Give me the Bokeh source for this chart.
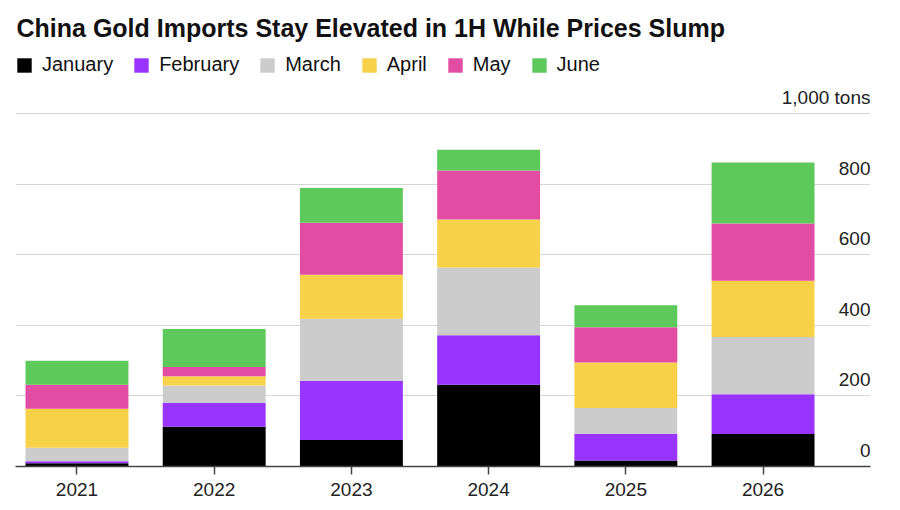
from bokeh.plotting import figure
from bokeh.models import Range1d, FixedTicker, Grid, Legend, LegendItem, Label, ColumnDataSource
from bokeh.core.properties import value
from bokeh.embed import file_html
from bokeh.resources import INLINE

# ---- data (thousand tons) ----
YEARS = ["2021", "2022", "2023", "2024", "2025", "2026"]
MONTHS = ["January", "February", "March", "April", "May", "June"]
JAN = [9, 113, 75, 232, 17, 92]
FEB = [6, 67, 168, 140, 76, 113]
MAR = [38, 50, 176, 192, 73, 162]
APR = [111, 26, 125, 136, 129, 160]
MAY = [68, 26, 147, 139, 100, 162]
JUN = [68, 108, 99, 59, 62, 173]
Y_TICKS = [0, 200, 400, 600, 800, 1000]
Y_LABELS = ["0", "200", "400", "600", "800", "1,000 tons"]
COLORS = ["#000000", "#9933ff", "#cccccc", "#f7d148", "#e34ca3", "#5cc95a"]

FONT = "Liberation Sans"
X = list(range(len(YEARS)))

src = ColumnDataSource(dict(x=X, January=JAN, February=FEB, March=MAR,
                            April=APR, May=MAY, June=JUN))

X_START, X_END = -0.448, 5.783
Y_TOP = 1298.6

p = figure(width=892, height=508, x_range=Range1d(X_START, X_END),
           y_range=Range1d(0, Y_TOP), y_axis_location=None,
           output_backend="svg", toolbar_location=None,
           min_border_left=15, min_border_right=22, min_border_top=8,
           min_border_bottom=42, outline_line_color=None)
p.grid.visible = False
p.add_layout(Grid(dimension=1, ticker=FixedTicker(ticks=Y_TICKS),
                  grid_line_color="#d6d6d6", grid_line_width=1))

rs = p.vbar_stack(MONTHS, x="x", width=0.75, color=COLORS, source=src,
                  line_color=None)

# x axis
ax = p.xaxis[0]
ax.ticker = FixedTicker(ticks=X)
ax.major_label_overrides = {i: y for i, y in zip(X, YEARS)}
ax.axis_line_color = "#444444"
ax.axis_line_width = 1.5
ax.major_tick_line_color = "#444444"
ax.major_tick_line_width = 1.5
ax.major_tick_out = 8
ax.major_tick_in = 0
ax.minor_tick_out = 0
ax.minor_tick_in = 0
ax.major_label_standoff = 8
ax.major_label_text_font = FONT
ax.major_label_text_font_size = "19px"
ax.major_label_text_color = "#222222"

# y labels above gridlines at right
p.text(x=[X_END] * len(Y_TICKS), y=Y_TICKS, text=Y_LABELS,
       text_align="right", text_baseline="middle", y_offset=-16,
       text_font=value(FONT), text_font_size="19px", text_color="#222222")

# title
p.add_layout(Label(x=1, y=439, x_units="screen", y_units="screen",
                   text="China Gold Imports Stay Elevated in 1H While Prices Slump",
                   text_font=FONT, text_font_size="25px", text_font_style="bold",
                   text_color="#111111", text_baseline="middle"))

# legend
items = [LegendItem(label=m, renderers=[r]) for m, r in zip(MONTHS, rs)]
leg = Legend(items=items, orientation="horizontal", location=(0, 390),
             glyph_width=18, glyph_height=18, label_standoff=9, spacing=19,
             padding=0, margin=0, border_line_color=None,
             background_fill_alpha=0, label_text_font=FONT,
             label_text_font_size="20px", label_text_color="#111111")
p.add_layout(leg, "center")

open("out.html", "w").write(file_html(p, INLINE))
